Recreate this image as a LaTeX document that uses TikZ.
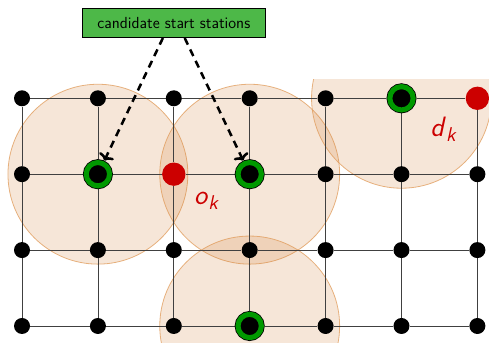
\documentclass[tikz,border=0pt]{standalone}
\usetikzlibrary{arrows.meta,backgrounds}
\definecolor{zonefill}{HTML}{D2823C}
\definecolor{zoneedge}{HTML}{E09A58}
\definecolor{startgreen}{HTML}{009900}
\definecolor{boxgreen}{HTML}{4DB848}
\definecolor{odred}{HTML}{CC0000}
% slanted sans letter with a lowered k
\newcommand{\odsub}[1]{\textit{#1}\raisebox{-.45ex}{\fontsize{15}{15}\selectfont\itshape k}}

\begin{document}
\begin{tikzpicture}[x=2cm,y=2cm,font=\sffamily,
  station/.style={circle,fill=black,inner sep=0pt,minimum size=12pt},
  cand/.style={draw=black,double=startgreen,double distance=3.8pt,line width=.6pt,minimum size=17.5pt,outer sep=2.6pt},
  odnode/.style={fill=odred,minimum size=17.5pt},
  at-1-2/.style={cand},at-3-2/.style={cand},at-5-3/.style={cand},at-3-0/.style={cand},
  at-2-2/.style={odnode},at-6-3/.style={odnode},
  zone/.style={fill=zonefill,fill opacity=.2,draw=zoneedge,draw opacity=.75,line width=.6pt},
  gridline/.style={black!75,line width=.6pt},
  hint/.style={-{To[length=4.5pt,width=12pt]},line width=1.9pt,dash pattern=on 5.5pt off 4pt},
  odlabel/.style={text=odred,font=\fontsize{21}{24}\selectfont\sffamily}]
\path[use as bounding box] (-0.290,-0.224) rectangle (6.153,4.295);
% stations: 7 x 4 street grid, row 0 at the bottom
\foreach \i in {0,...,6}
  \foreach \j in {0,...,3}
    \node[station,at-\i-\j/.try] (n-\i-\j) at (\i,\j) {};
\node[odlabel] (ok) at (2.424,1.650) {\odsub{o}};
\node[odlabel] (dk) at (5.547,2.590) {\odsub{d}};
\node[draw=black,fill=boxgreen,line width=.5pt,minimum width=137pt,minimum height=22pt,font=\sffamily\large] (cbox) at (2,3.992) {candidate start stations};
\draw[hint] (cbox.234) -- (n-1-2);
\draw[hint] (cbox.306) -- (n-3-2);
\begin{scope}[on background layer]
  \begin{scope}
    \clip (-0.290,-0.224) rectangle (6.153,3.241);
    \foreach \s in {n-1-2,n-3-2,n-5-3,n-3-0}
      \draw[zone] (\s) circle[radius=2.37cm];
  \end{scope}
  \foreach \j in {0,...,3}
    \foreach \i [count=\k from 1] in {0,...,5}
      \draw[gridline] (n-\i-\j) -- (n-\k-\j);
  \foreach \i in {0,...,6}
    \foreach \j [count=\k from 1] in {0,1,2}
      \draw[gridline] (n-\i-\j) -- (n-\i-\k);
\end{scope}
\end{tikzpicture}
\end{document}
